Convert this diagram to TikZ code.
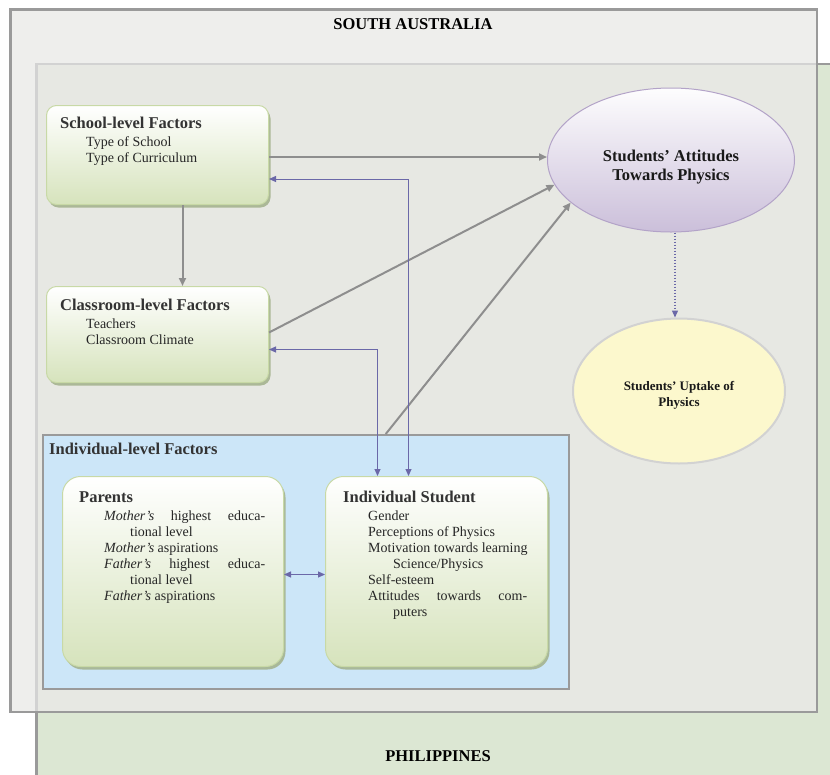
\documentclass[tikz,border=0pt]{standalone}
\usepackage{fontspec}
\setmainfont{Liberation Serif}
\usetikzlibrary{arrows.meta,shapes.geometric,shadows}

\definecolor{saGray}{HTML}{EEEEEC}
\definecolor{phGreen}{HTML}{DCE7D3}
\definecolor{overlapGray}{HTML}{E7E8E3}
\definecolor{edgeGray}{HTML}{9A9A9A}
\definecolor{innerEdge}{HTML}{D2D2D2}
\definecolor{boxGreen}{HTML}{D6E3BC}
\definecolor{boxEdge}{HTML}{C8D9A6}
\definecolor{shadowGreen}{HTML}{A5B38F}
\definecolor{indBlue}{HTML}{CCE6F8}
\definecolor{lilac}{HTML}{CBBFDA}
\definecolor{lilacEdge}{HTML}{B3A3C8}
\definecolor{paleYellow}{HTML}{FCF8CD}
\definecolor{flowGray}{HTML}{8E8E8E}
\definecolor{linkBlue}{HTML}{6B68A8}

\tikzset{
  factorbox/.style={draw=boxEdge, line width=1pt, rounded corners=10pt,
    top color=white, bottom color=boxGreen, anchor=north west, inner sep=0pt,
    drop shadow={shadow xshift=2pt, shadow yshift=-3pt, fill=shadowGreen, opacity=0.9}},
  areatitle/.style={anchor=base, inner sep=0pt, font=\fontsize{16.5}{19}\selectfont\bfseries},
  headtext/.style={anchor=base west, inner sep=0pt, text=black!80, font=\fontsize{16.5}{19}\selectfont\bfseries},
  itemtext/.style={anchor=base west, inner sep=0pt, text=black!85, font=\fontsize{14}{16}\selectfont},
  ovaltext/.style={align=center, inner sep=0pt, text=black!90},
  flowarrow/.style={draw=flowGray, line width=2pt, -{Triangle[length=8pt,width=7pt]}},
  linkarrow/.style={draw=linkBlue, line width=1pt, {Triangle[length=7pt,width=6pt]}-{Triangle[length=7pt,width=6pt]}},
  dotarrow/.style={draw=linkBlue, line width=1.3pt, dash pattern=on 1.3pt off 1.7pt, -{Triangle[length=7pt,width=6pt]}}
}

\begin{document}
\begin{tikzpicture}[x=1pt, y=-1pt]
  \useasboundingbox (0,0) rectangle (830,774);

  % Country regions
  \fill[phGreen] (36.5,64) rectangle (834,778);
  \fill[saGray] (10.5,9.5) rectangle (817,712);
  \fill[overlapGray] (36.5,64) rectangle (817,712);
  \draw[innerEdge, line width=2.5pt] (36.5,712) -- (36.5,64) -- (817,64);
  \draw[edgeGray, line width=2.5pt] (36.5,778) -- (36.5,712) (817,64) -- (834,64);
  \draw[edgeGray, line width=2.5pt] (10.5,9.5) rectangle (817,712);

  \node[areatitle] (satitle) at (413,29.5) {SOUTH AUSTRALIA};
  \node[areatitle] (phtitle) at (438,761) {PHILIPPINES};

  % Factor boxes
  \node[factorbox, minimum width=222pt, minimum height=99pt] (school) at (46,105) {};
  \node[factorbox, minimum width=222pt, minimum height=96pt] (classroom) at (46,286) {};

  \node[draw=edgeGray, line width=1.5pt, fill=indBlue, anchor=north west, inner sep=0pt,
        minimum width=526pt, minimum height=254pt] (indlevel) at (42,434) {};
  \node[headtext] (indhead) at (49,454) {Individual-level Factors};

  \node[factorbox, rounded corners=18pt, minimum width=221pt, minimum height=190pt] (parents) at (62,476) {};
  \node[factorbox, rounded corners=18pt, minimum width=222pt, minimum height=190pt] (student) at (325,476) {};

  % Outcome ellipses
  \node[ellipse, draw=lilacEdge, line width=1pt, top color=white!97!lilac, bottom color=lilac,
        minimum width=247pt, minimum height=144pt, inner sep=0pt] (attitudes) at (671,160) {};
  \node[ovaltext, font=\fontsize{16.5}{19}\selectfont\bfseries] (atttext) at (671,167)
        {Students' Attitudes\\Towards Physics};
  \node[ellipse, draw=innerEdge, line width=2pt, fill=paleYellow,
        minimum width=212pt, minimum height=145pt, inner sep=0pt] (uptake) at (679,391) {};
  \node[ovaltext, font=\fontsize{13}{16}\selectfont\bfseries] (uptaketext) at (679,395)
        {Students' Uptake of\\Physics};

  % Box texts
  \node[headtext] (schoolhead) at (60,128) {School-level Factors};
  \foreach \yy/\txt [count=\i] in {146/Type of School, 162/Type of Curriculum}
    \node[itemtext] (schoolitem\i) at (86,\yy) {\txt};

  \node[headtext] (classhead) at (60,310) {Classroom-level Factors};
  \foreach \yy/\txt [count=\i] in {328/Teachers, 344/Classroom Climate}
    \node[itemtext] (classitem\i) at (86,\yy) {\txt};

  \node[headtext] (parenthead) at (79,502.5) {Parents};
  \foreach \xx/\yy/\txt [count=\i] in {
      104/520.5/{\makebox[161pt][s]{\textit{Mother's} highest educa-}},
      130/536.5/{tional level},
      104/552.5/{\textit{Mother's} aspirations},
      104/568.5/{\makebox[161pt][s]{\textit{Father's} highest educa-}},
      130/584.5/{tional level},
      104/600.5/{\textit{Father's} aspirations}}
    \node[itemtext] (parentitem\i) at (\xx,\yy) {\txt};

  \node[headtext] (studenthead) at (343,502.5) {Individual Student};
  \foreach \xx/\yy/\txt [count=\i] in {
      368/520.5/{Gender},
      368/536.5/{Perceptions of Physics},
      368/552.5/{Motivation towards learning},
      393/568.5/{Science/Physics},
      368/584.5/{Self-esteem},
      368/600.5/{\makebox[159pt][s]{Attitudes towards com-}},
      393/616.5/{puters}}
    \node[itemtext] (studentitem\i) at (\xx,\yy) {\txt};

  % Paths of influence
  \coordinate (schoolout) at ([yshift=-2pt]school.east);
  \draw[flowarrow] (schoolout) -- (schoolout -| attitudes.west);
  \draw[flowarrow] ([xshift=25pt]school.south) -- ([xshift=25pt]classroom.north);
  \draw[flowarrow] ([yshift=2pt]classroom.east) -- (attitudes.192);
  \draw[flowarrow] ([xshift=80pt]indlevel.north) -- (attitudes.203);

  \draw[linkarrow] ([yshift=-24pt]school.east) -| ([xshift=-28pt]student.north);
  \draw[linkarrow] ([yshift=-15pt]classroom.east) -| ([xshift=-59pt]student.north);
  \draw[linkarrow] ([yshift=-3pt]parents.east) -- ([yshift=-3pt]student.west);

  \coordinate (dotstart) at ([xshift=4pt]attitudes.south);
  \draw[dotarrow] (dotstart) -- (dotstart |- uptake.north);
\end{tikzpicture}
\end{document}
